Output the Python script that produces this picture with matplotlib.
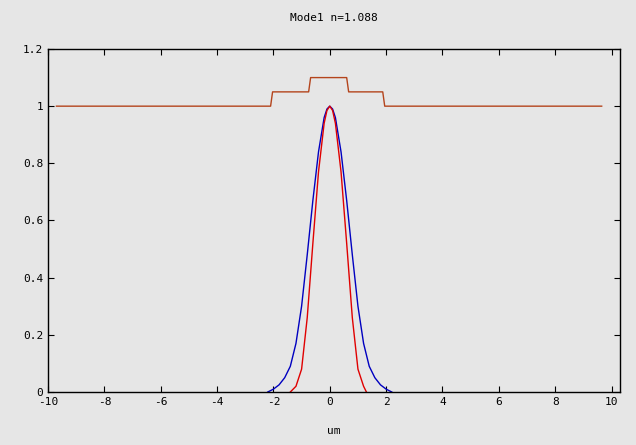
import matplotlib
matplotlib.use("Agg")
import matplotlib.pyplot as plt

# index profile (step index)
n_x = [-9.7, -2.1, -2.03, -0.75, -0.68, 0.6, 0.67, 1.88, 1.95, 9.65]
n_y = [1.0, 1.0, 1.05, 1.05, 1.1, 1.1, 1.05, 1.05, 1.0, 1.0]

# mode field (blue) and second curve (red)
blue_x = [-2.2, -2.0, -1.8, -1.6, -1.4, -1.2, -1.0, -0.8, -0.6, -0.4, -0.2, -0.1, 0.0,
          0.1, 0.2, 0.4, 0.6, 0.8, 1.0, 1.2, 1.4, 1.6, 1.8, 2.0, 2.2]
blue_y = [0.0, 0.01, 0.025, 0.05, 0.09, 0.17, 0.30, 0.48, 0.67, 0.84, 0.96, 0.99, 1.0,
          0.99, 0.96, 0.84, 0.67, 0.48, 0.30, 0.17, 0.09, 0.05, 0.025, 0.01, 0.0]
red_x = [-1.4, -1.2, -1.0, -0.8, -0.6, -0.4, -0.2, -0.1, 0.0, 0.1, 0.2, 0.4, 0.6, 0.8, 1.0, 1.2, 1.3]
red_y = [0.0, 0.02, 0.08, 0.26, 0.52, 0.77, 0.94, 0.985, 1.0, 0.985, 0.94, 0.77, 0.52, 0.26, 0.08, 0.02, 0.0]

bg = "#e6e6e6"
plt.rcParams["font.family"] = "DejaVu Sans Mono"
plt.rcParams["axes.unicode_minus"] = False
fig = plt.figure(figsize=(6.36, 4.45), dpi=100, facecolor=bg)
ax = fig.add_axes([48 / 636, 1 - 392 / 445, 572 / 636, 343 / 445], facecolor=bg)

ax.plot(n_x, n_y, color="#b4441c", lw=1)
ax.plot(blue_x, blue_y, color="#0000c0", lw=1)
ax.plot(red_x, red_y, color="#e00000", lw=1)

ax.set_xlim(-10, 10.3)
ax.set_ylim(0, 1.2)
ax.set_xticks(range(-10, 11, 2))
ax.set_yticks([0, 0.2, 0.4, 0.6, 0.8, 1, 1.2])
ax.set_yticklabels(["0", "0.2", "0.4", "0.6", "0.8", "1", "1.2"])
ax.tick_params(direction="in", labelsize=8, length=4, top=True, right=True)
for s in ax.spines.values():
    s.set_linewidth(1)
ax.set_title("Mode1 n=1.088", fontsize=8, pad=20)
ax.set_xlabel("um", fontsize=8, labelpad=14)

fig.savefig("out.png", facecolor=bg)
